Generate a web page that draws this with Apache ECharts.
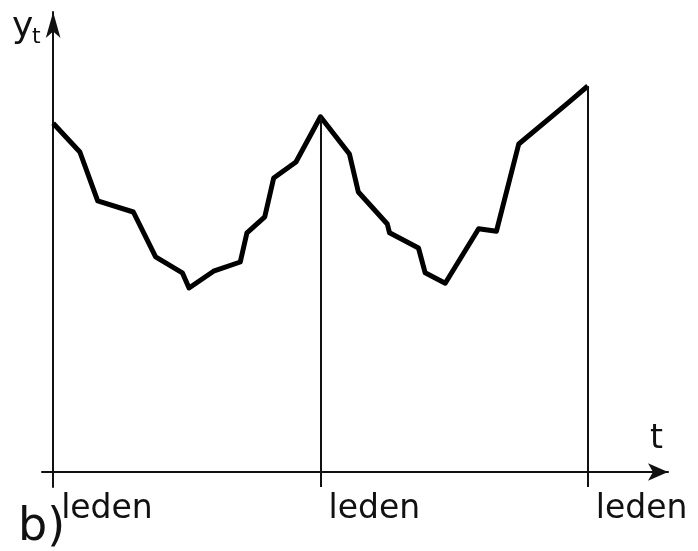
<!DOCTYPE html>
<html>
<head>
<meta charset="utf-8">
<script src="https://cdn.jsdelivr.net/npm/echarts@6/dist/echarts.min.js"></script>
<style>
  html, body { margin: 0; padding: 0; background: #fff; }
  #chart { width: 698px; height: 551px; }
</style>
</head>
<body>
<div id="chart"></div>
<script>
// time in months from the first "leden" (January)
var months = [0, 1.2, 2.0, 3.6, 4.6, 5.8, 6.1, 7.2, 8.4, 8.7, 9.5, 9.9, 10.9, 12,
              13.3, 13.7, 15.0, 15.1, 16.4, 16.7, 17.6, 19.1, 19.9, 20.9, 23.1, 24];
// y_t values (arbitrary units)
var values = [87.2, 80, 67.8, 65, 53.8, 49.8, 46, 50.2, 52.5, 59.8, 63.8, 73.5, 77.5, 88.8,
              79.5, 70, 62, 59.8, 56, 49.8, 47.2, 60.8, 60.2, 82, 92.2, 96.5];
// january positions
var ledenTicks = [0, 12, 24];
var ledenLabel = 'leden';

var yMin = -3.75;
var font = 'DejaVu Sans';

var seriesData = months.map(function (m, i) { return [m, values[i]]; });

//vertical lines from below the axis up to the curve at each later january
var vLines = ledenTicks.slice(1).map(function (t) {
  var idx = months.indexOf(t);
  return [{ coord: [t, yMin] }, { coord: [t, values[idx]] }];
});

var chart = echarts.init(document.getElementById('chart'));
chart.setOption({
  animation: false,
  backgroundColor: '#fff',
  grid: { left: 42, right: 30, top: 12, bottom: 64 },
  xAxis: {
    type: 'value',
    min: -0.5,
    max: 27.6,
    splitLine: { show: false },
    axisTick: { show: false },
    axisLine: {
      onZero: true,
      symbol: ['none', 'arrow'],
      symbolSize: [13, 20],
      lineStyle: { color: '#111', width: 2 }
    },
    axisLabel: {
      customValues: ledenTicks,
      formatter: function () { return ledenLabel; },
      align: 'left',
      padding: [0, 0, 0, 8],
      margin: 6,
      color: '#111',
      fontSize: 33,
      fontFamily: font
    }
  },
  yAxis: {
    type: 'value',
    min: yMin,
    max: 115,
    splitLine: { show: false },
    axisTick: { show: false },
    axisLabel: { show: false },
    axisLine: {
      onZero: true,
      symbol: ['none', 'arrow'],
      symbolSize: [11, 26],
      lineStyle: { color: '#111', width: 2 }
    }
  },
  graphic: [
    { type: 'text', left: 12, top: 10,
      style: { text: 'y', font: '36px "DejaVu Sans"', fill: '#111' } },
    { type: 'text', left: 32, top: 26,
      style: { text: 't', font: '22px "DejaVu Sans"', fill: '#111' } },
    { type: 'text', left: 650, top: 423,
      style: { text: 't', font: '33px "DejaVu Sans"', fill: '#111' } },
    { type: 'text', left: 18, top: 505,
      style: { text: 'b)', font: '46px "DejaVu Sans"', fill: '#111' } }
  ],
  series: [{
    type: 'line',
    data: seriesData,
    symbol: 'none',
    lineStyle: { color: '#000', width: 5, join: 'round' },
    markLine: {
      silent: true,
      symbol: 'none',
      label: { show: false },
      lineStyle: { color: '#111', width: 2, type: 'solid' },
      data: vLines
    }
  }]
});
</script>
</body>
</html>
